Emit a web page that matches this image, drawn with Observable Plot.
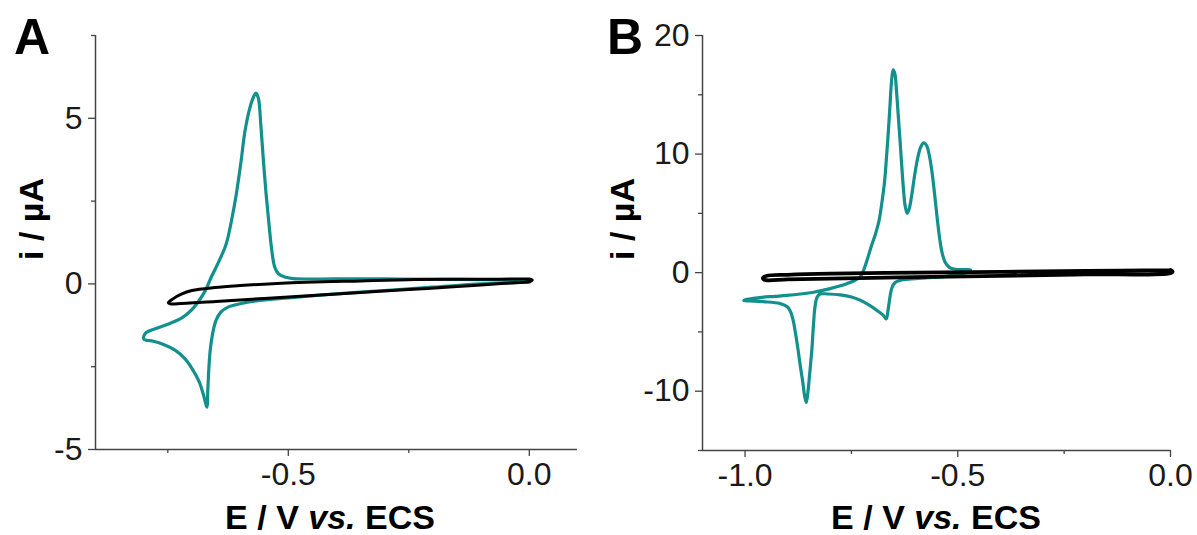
<!DOCTYPE html>
<html><head><meta charset="utf-8">
<script src="https://cdn.jsdelivr.net/npm/d3@7"></script>
<script src="https://cdn.jsdelivr.net/npm/@observablehq/plot@0.6"></script>
<style>
body{margin:0;background:#fff;}
#wrap{position:relative;width:1197px;height:535px;overflow:hidden;}
#wrap svg{position:absolute;top:0;}
</style></head><body><div id="wrap"></div>
<script>
// ---------- Panel A data ----------
const tealA_E = [0.0,-0.1,-0.2,-0.3,-0.4,-0.5,-0.56,-0.6,-0.625,-0.64,-0.65,-0.657,-0.662,-0.665,-0.667,-0.669,-0.675,-0.685,-0.7,-0.715,-0.735,-0.76,-0.78,-0.795,-0.8,-0.797,-0.79,-0.775,-0.75,-0.72,-0.7,-0.685,-0.672,-0.66,-0.645,-0.629,-0.618,-0.608,-0.598,-0.59,-0.58,-0.572,-0.567,-0.562,-0.557,-0.552,-0.546,-0.54,-0.535,-0.528,-0.52,-0.505,-0.49,-0.4,-0.3,-0.2,-0.1,0.0];
const tealA_I = [0.05,0.0,-0.1,-0.2,-0.3,-0.42,-0.5,-0.6,-0.7,-0.85,-1.1,-1.5,-2.0,-2.6,-3.2,-3.72,-3.4,-2.95,-2.55,-2.25,-2.0,-1.82,-1.73,-1.7,-1.66,-1.5,-1.43,-1.35,-1.22,-1.02,-0.78,-0.5,-0.2,0.2,0.65,1.2,1.9,2.7,3.7,4.6,5.3,5.65,5.76,5.6,4.8,3.8,2.7,1.8,1.1,0.5,0.3,0.2,0.16,0.15,0.15,0.14,0.13,0.12];
const blackA_E = [0.0,-0.1,-0.236,-0.35,-0.514,-0.6,-0.653,-0.7,-0.722,-0.74,-0.749,-0.745,-0.73,-0.65,-0.55,-0.45,-0.35,-0.25,-0.15,-0.05,0.0,0.006,0.0];
const blackA_I = [0.15,0.14,0.13,0.09,0.02,-0.05,-0.11,-0.2,-0.31,-0.46,-0.57,-0.6,-0.6,-0.53,-0.44,-0.35,-0.26,-0.17,-0.08,0.02,0.07,0.12,0.15];

// ---------- Panel B data ----------
const tealB_E = [-0.729,-0.721,-0.712,-0.703,-0.694,-0.685,-0.678,-0.672,-0.667,-0.663,-0.659,-0.656,-0.652,-0.648,-0.644,-0.64,-0.636,-0.632,-0.628,-0.624,-0.619,-0.614,-0.608,-0.601,-0.594,-0.587,-0.58,-0.573,-0.567,-0.561,-0.555,-0.549,-0.543,-0.537,-0.53,-0.52,-0.505,-0.49,-0.47,-0.475,-0.5,-0.533,-0.57,-0.6,-0.63,-0.648,-0.655,-0.66,-0.664,-0.668,-0.675,-0.69,-0.71,-0.729,-0.75,-0.776,-0.805,-0.824,-0.831,-0.836,-0.839,-0.843,-0.848,-0.852,-0.856,-0.86,-0.864,-0.87,-0.875,-0.881,-0.887,-0.893,-0.9,-0.918,-0.957,-0.99,-1.003,-0.995,-0.965,-0.93,-0.902,-0.87,-0.839,-0.8,-0.78,-0.761,-0.745,-0.729];
const tealB_I = [-0.37,0.23,1.2,2.25,3.2,4.4,6.0,7.7,10.0,12.0,14.3,16.0,17.1,16.8,15.3,13.3,11.3,9.2,7.2,5.7,5.0,5.4,6.6,8.3,9.7,10.6,10.95,10.7,9.9,8.6,6.8,4.8,3.0,1.7,0.9,0.45,0.28,0.25,0.23,0.05,-0.15,-0.33,-0.43,-0.5,-0.6,-0.85,-1.3,-2.2,-3.2,-3.9,-3.6,-3.18,-2.7,-2.33,-2.05,-1.88,-1.8,-1.8,-2.1,-3.0,-4.3,-6.5,-8.5,-10.0,-10.95,-10.4,-9.3,-7.9,-6.6,-5.2,-4.0,-3.3,-2.9,-2.6,-2.45,-2.38,-2.35,-2.25,-2.1,-2.0,-1.92,-1.8,-1.65,-1.35,-1.15,-0.93,-0.7,-0.37];
const blackB_E = [0.0,-0.2,-0.4,-0.6,-0.8,-0.9,-0.95,-0.958,-0.955,-0.9,-0.8,-0.6,-0.4,-0.2,0.0,0.005,0.0];
const blackB_I = [0.22,0.14,0.07,0.0,-0.08,-0.18,-0.28,-0.45,-0.6,-0.57,-0.5,-0.38,-0.27,-0.15,-0.04,0.09,0.22];

// ---------- axes ----------
const xDomainA = [-0.9, 0.1], yDomainA = [-5, 7.5];
const xMajorA = [-0.5, 0.0], xMinorA = [-0.75, -0.25];
const yMajorA = [-5, 0, 5], yMinorA = [-2.5, 2.5, 7.5];
const xDomainB = [-1.1, 0.0], yDomainB = [-15, 20];
const xMajorB = [-1.0, -0.5, 0.0], xMinorB = [-0.75, -0.25];
const yMajorB = [-10, 0, 10, 20], yMinorB = [-15, -5, 5, 15];

const TEAL = "#11908e", AXIS = "#444";
const toRows = (E, I) => E.map((e, k) => ({E: e, I: I[k]}));

function panel(o) {
  const svg = Plot.plot({
    width: o.width, height: 535,
    marginLeft: o.ml, marginRight: o.mr, marginTop: 35, marginBottom: o.mb,
    x: {domain: o.xDomain, label: null},
    y: {domain: o.yDomain, label: null},
    style: {fontFamily: "'Liberation Sans', Arial, sans-serif", fontSize: "32px", color: "#1a1a1a", background: "transparent", overflow: "visible"},
    marks: [
      Plot.axisX({ticks: o.xMinor, tickSize: 4, tickFormat: () => "", stroke: AXIS, strokeWidth: 1.3}),
      Plot.axisX({ticks: o.xMajor, tickSize: 7, tickPadding: 6, tickFormat: d => d.toFixed(1), stroke: AXIS, strokeWidth: 1.3}),
      Plot.axisY({ticks: o.yMinor, tickSize: 4, tickFormat: () => "", stroke: AXIS, strokeWidth: 1.3}),
      Plot.axisY({ticks: o.yMajor, tickSize: 7, tickPadding: 6, tickFormat: d => String(d), stroke: AXIS, strokeWidth: 1.3}),
      Plot.ruleY([o.yDomain[0]], {stroke: AXIS, strokeWidth: 1.5}),
      Plot.ruleX([o.xDomain[0]], {stroke: AXIS, strokeWidth: 1.5}),
      Plot.line(toRows(o.tE, o.tI), {x: "E", y: "I", stroke: TEAL, strokeWidth: 3.2, curve: "catmull-rom"}),
      Plot.line(toRows(o.bE, o.bI), {x: "E", y: "I", stroke: "#000", strokeWidth: o.bw, curve: "catmull-rom"})
    ]
  });
  const s = d3.select(svg);
  s.append("text").attr("x", o.letterX).attr("y", 54).attr("text-anchor", "start")
    .style("font", "bold 50px 'Liberation Sans', Arial, sans-serif").attr("fill", "#000").text(o.letter);
  s.append("text").attr("transform", `translate(${o.ytX},219) rotate(-90)`)
    .attr("text-anchor", "middle").attr("dy", "0.35em")
    .style("font", "bold 34px 'Liberation Sans', Arial, sans-serif").attr("fill", "#000").text("i / µA");
  const t = s.append("text").attr("x", o.xtX).attr("y", 529).attr("text-anchor", "middle")
    .style("font", "bold 34px 'Liberation Sans', Arial, sans-serif").attr("fill", "#000");
  t.append("tspan").text("E / V ");
  t.append("tspan").style("font-style", "italic").text("vs.");
  t.append("tspan").text(" ECS");
  svg.style.left = o.left + "px";
  return svg;
}

const wrap = document.getElementById("wrap");
wrap.appendChild(panel({left: 0, width: 600, ml: 95, mr: 23, mb: 86,
  xDomain: xDomainA, yDomain: yDomainA, xMajor: xMajorA, xMinor: xMinorA, yMajor: yMajorA, yMinor: yMinorA,
  tE: tealA_E, tI: tealA_I, bE: blackA_E, bI: blackA_I, bw: 3,
  letter: "A", letterX: 14, ytX: 31, xtX: 330}));
wrap.appendChild(panel({left: 600, width: 597, ml: 102, mr: 27, mb: 85,
  xDomain: xDomainB, yDomain: yDomainB, xMajor: xMajorB, xMinor: xMinorB, yMajor: yMajorB, yMinor: yMinorB,
  tE: tealB_E, tI: tealB_I, bE: blackB_E, bI: blackB_I, bw: 3.8,
  letter: "B", letterX: 7, ytX: 22, xtX: 336}));
</script></body></html>
